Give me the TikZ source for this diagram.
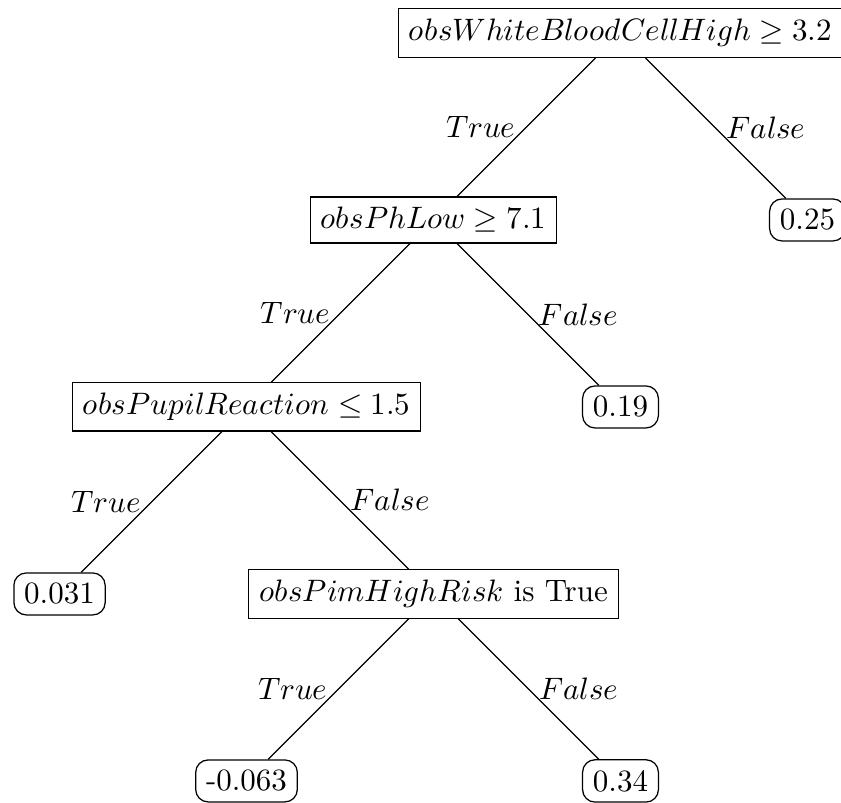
\documentclass[tikz,border=0pt]{standalone}
\usepackage{unicode-math}
\begin{document}
\begin{tikzpicture}[x=2.12cm,y=2.12cm,
  split/.style={draw,rectangle},
  leaf/.style={draw,rectangle,rounded corners}]
  \useasboundingbox (-7.035cm,0.374cm) rectangle (2.5cm,-8.719cm);
  \node[split] (wbc) at (0,0) {$obsWhiteBloodCellHigh \geq 3.2$};
  \node[split] (ph) at (-1,-1) {$obsPhLow \geq 7.1$};
  \node[leaf] (l1) at (1,-1) {0.25};
  \node[split] (pupil) at (-2,-2) {$obsPupilReaction \leq 1.5$};
  \node[leaf] (l2) at (0,-2) {0.19};
  \node[leaf] (l3) at (-3,-3) {0.031};
  \node[split] (pim) at (-1,-3) {$obsPimHighRisk$ is True};
  \node[leaf] (l4) at (-2,-4) {-0.063};
  \node[leaf] (l5) at (0,-4) {0.34};
  \foreach \p/\c/\t/\s in {wbc/ph/True/left,wbc/l1/False/right,
    ph/pupil/True/left,ph/l2/False/right,
    pupil/l3/True/left,pupil/pim/False/right,
    pim/l4/True/left,pim/l5/False/right} {
    \draw (\p) -- node[midway,\s] {$\t$} (\c);
  }
\end{tikzpicture}
\end{document}
